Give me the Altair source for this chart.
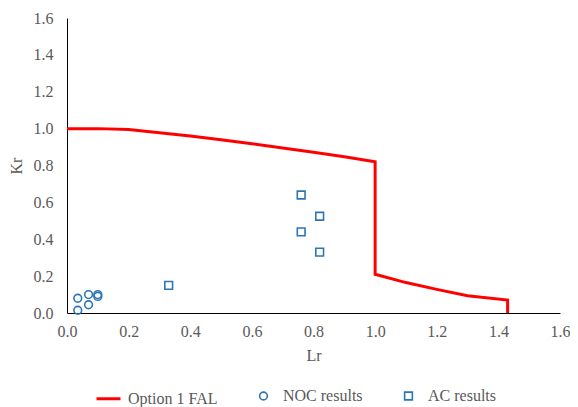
import altair as alt
import pandas as pd

# Option 1 FAL curve
fal_lr = [0.0, 0.1, 0.2, 0.3, 0.4, 0.5, 0.6, 0.7, 0.8, 0.9, 1.0, 1.0, 1.1, 1.2, 1.3, 1.43, 1.43]
fal_kr = [1.0, 1.0, 0.995, 0.978, 0.96, 0.94, 0.918, 0.895, 0.872, 0.847, 0.82, 0.21, 0.165, 0.128, 0.094, 0.07, 0.0]

# NOC results
noc_lr = [0.035, 0.035, 0.07, 0.07, 0.1, 0.1]
noc_kr = [0.08, 0.015, 0.10, 0.045, 0.09, 0.10]

# AC results
ac_lr = [0.33, 0.76, 0.82, 0.76, 0.82]
ac_kr = [0.15, 0.64, 0.525, 0.44, 0.33]

series = ["Option 1 FAL", "NOC results", "AC results"]
ticks = [0.0, 0.2, 0.4, 0.6, 0.8, 1.0, 1.2, 1.4, 1.6]

RED = "#FF0000"
BLUE = "#2E75B6"
FONT = "Liberation Serif"
GREY = "#595959"

df_line = pd.DataFrame({"Lr": fal_lr, "Kr": fal_kr, "series": series[0],
                        "order": list(range(len(fal_lr)))})
df_pts = pd.concat([
    pd.DataFrame({"Lr": noc_lr, "Kr": noc_kr, "series": series[1]}),
    pd.DataFrame({"Lr": ac_lr, "Kr": ac_kr, "series": series[2]}),
], ignore_index=True)

axis_common = dict(values=ticks, format=".1f", grid=False, ticks=False, tickSize=0,
                   labelFlush=False, labelBound=False, domainColor="#000000", domainWidth=1,
                   labelFont=FONT, labelFontSize=16, labelColor=GREY,
                   titleFont=FONT, titleFontSize=16, titleColor=GREY, titleFontWeight="normal")

x = alt.X("Lr:Q", title="Lr",
          scale=alt.Scale(domain=[0, 1.6], nice=False),
          axis=alt.Axis(labelPadding=10, titlePadding=8, **axis_common))
y = alt.Y("Kr:Q", title="Kr",
          scale=alt.Scale(domain=[0, 1.6], nice=False),
          axis=alt.Axis(labelPadding=14, titlePadding=9, **axis_common))

legend = alt.Legend(
    orient="none", legendX=28, legendY=367, direction="horizontal", columns=3,
    title=None, labelOffset=6, columnPadding=32, padding=0,
    labelFont=FONT, labelFontSize=16, labelColor=GREY, symbolOpacity=1,
)

color = alt.Color("series:N", scale=alt.Scale(domain=series, range=[RED, BLUE, BLUE]), legend=legend)
shape = alt.Shape("series:N", scale=alt.Scale(domain=series, range=["stroke", "circle", "square"]), legend=legend)
size = alt.Size("series:N", scale=alt.Scale(type="ordinal", domain=series, range=[576, 60, 60]), legend=legend)
sw = alt.StrokeWidth("series:N", scale=alt.Scale(type="ordinal", domain=series, range=[3, 1.6, 1.6]), legend=legend)

line = alt.Chart(df_line).mark_line(strokeWidth=3).encode(
    x=x, y=y, order="order:Q", color=color)

pts = alt.Chart(df_pts).mark_point(filled=False, opacity=1).encode(
    x=x, y=y, color=color, shape=shape, size=size, strokeWidth=sw)

chart = alt.layer(line, pts).properties(
    width=493, height=295,
    padding={"left": 59, "top": 10, "right": 10, "bottom": 94},
    autosize=alt.AutoSizeParams(type="none"),
    background="white",
).configure_view(stroke=None)

chart.save("out.html", embed_options={"renderer": "svg", "actions": False})
